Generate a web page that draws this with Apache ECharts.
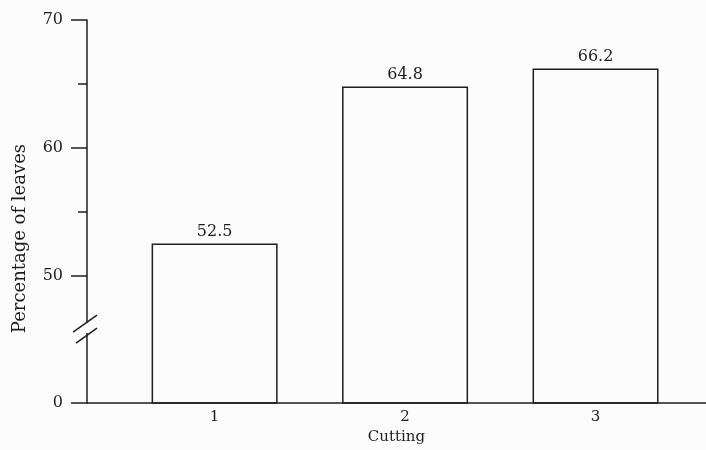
<!DOCTYPE html>
<html><head><meta charset="utf-8">
<script src="https://cdn.jsdelivr.net/npm/echarts@6/dist/echarts.min.js"></script>
<style>html,body{margin:0;padding:0;background:#fcfcfc}#c{width:706px;height:450px}</style>
</head><body><div id="c"></div>
<script>
// Data
const categories = [1, 2, 3];
const categoryLabels = ['1', '2', '3'];
const percentLeaves = [52.5, 64.8, 66.2];
const yMajorTicks = [40, 50, 60, 70];      // 40 is the broken-axis origin, labelled "0"
const yTickLabels = ['0', '50', '60', '70'];
const yMinorTicks = [55, 65];

const chart = echarts.init(document.getElementById('c'));
const ink = '#1e1e1e';
const font = 'DejaVu Serif';

chart.setOption({
  backgroundColor: '#fcfcfc',
  animation: false,
  grid: { left: 87, top: 20, right: 0, bottom: 46 },
  xAxis: {
    type: 'value', min: 0.33, max: 3.58,
    name: 'Cutting', nameLocation: 'middle', nameGap: 25,
    nameTextStyle: { fontFamily: font, fontSize: 15, color: ink },
    axisLine: { show: true, lineStyle: { color: ink, width: 1.5 } },
    axisTick: { show: false },
    splitLine: { show: false },
    axisLabel: {
      customValues: categories, margin: 7,
      fontFamily: font, fontSize: 15, color: ink,
      formatter: v => categoryLabels[categories.indexOf(v)]
    }
  },
  yAxis: [{
    type: 'value', min: 40, max: 70,
    name: 'Percentage of leaves', nameLocation: 'middle', nameGap: 58,
    nameTextStyle: { fontFamily: font, fontSize: 18, color: ink, padding: [0, 54, 0, 0] },
    axisLine: { show: true, lineStyle: { color: ink, width: 1.5 } },
    axisTick: { show: true, customValues: yMajorTicks, length: 16, lineStyle: { color: ink, width: 1.5 } },
    splitLine: { show: false },
    axisLabel: {
      customValues: yMajorTicks, margin: 24,
      fontFamily: font, fontSize: 16, color: ink,
      formatter: v => yTickLabels[yMajorTicks.indexOf(v)]
    }
  }, {
    type: 'value', min: 40, max: 70, position: 'left',
    axisLine: { show: false },
    axisTick: { show: true, customValues: yMinorTicks, length: 9, lineStyle: { color: ink, width: 1.5 } },
    axisLabel: { show: false },
    splitLine: { show: false }
  }],
  series: [{
    type: 'bar',
    data: categories.map((c, i) => [c, percentLeaves[i]]),
    barWidth: 126,
    itemStyle: { color: 'rgba(0,0,0,0)', borderColor: ink, borderWidth: 1.5 },
    label: {
      show: true, position: 'top', distance: 4,
      fontFamily: font, fontSize: 16, color: ink,
      formatter: p => p.value[1].toFixed(1)
    }
  }]
});

// axis break marks "//"
const ax = chart.convertToPixel({ xAxisIndex: 0 }, 0.33);
const yb = chart.convertToPixel({ yAxisIndex: 0 }, 45.8);
chart.setOption({
  graphic: [
    { type: 'rect', shape: { x: ax - 3, y: yb - 6, width: 6, height: 10 }, style: { fill: '#fcfcfc' }, z: 100 },
    { type: 'line', shape: { x1: ax - 14, y1: yb + 3, x2: ax + 10, y2: yb - 14 }, style: { stroke: ink, lineWidth: 1.5 }, z: 101 },
    { type: 'line', shape: { x1: ax - 11, y1: yb + 14, x2: ax + 10, y2: yb - 1 }, style: { stroke: ink, lineWidth: 1.5 }, z: 101 }
  ]
});
</script></body></html>
